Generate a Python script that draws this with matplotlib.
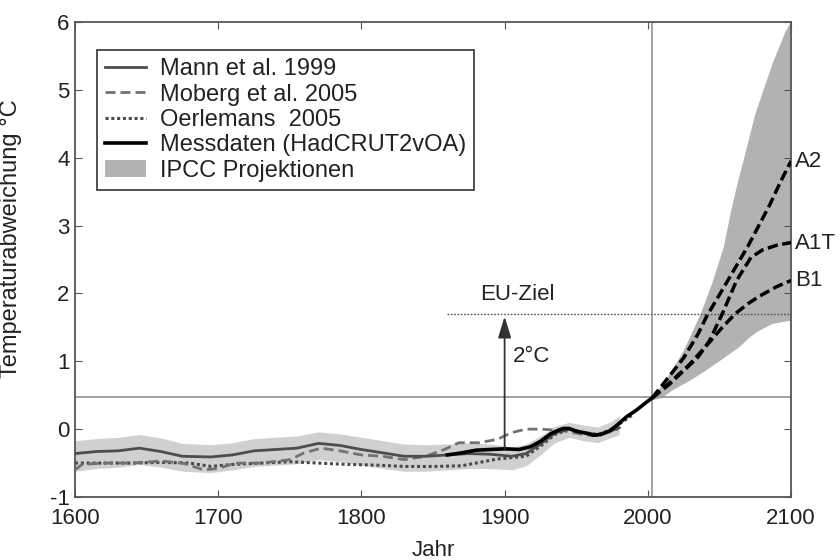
import matplotlib
matplotlib.use('Agg')
import matplotlib.pyplot as plt
from matplotlib.patches import Patch
from matplotlib.lines import Line2D

plt.rcParams['font.family'] = ['Liberation Sans', 'DejaVu Sans']
plt.rcParams['axes.unicode_minus'] = False

# Mann et al. 1999 reconstruction and its uncertainty band
mann_years = [1600, 1615, 1630, 1645, 1660, 1675, 1695, 1710, 1725, 1740, 1755, 1770, 1785,
              1800, 1815, 1830, 1845, 1860, 1875, 1890, 1905, 1915, 1925, 1935, 1945, 1955,
              1965, 1975, 1980]
mann_vals = [-0.36, -0.33, -0.32, -0.28, -0.33, -0.40, -0.41, -0.38, -0.32, -0.30, -0.28, -0.21, -0.24,
             -0.30, -0.35, -0.40, -0.40, -0.38, -0.36, -0.37, -0.40, -0.36, -0.22, -0.06, 0.00, -0.05,
             -0.08, -0.02, 0.02]
band_upper = [-0.17, -0.14, -0.12, -0.08, -0.13, -0.21, -0.23, -0.20, -0.14, -0.12, -0.10, -0.04, -0.07,
              -0.12, -0.17, -0.22, -0.23, -0.22, -0.20, -0.22, -0.26, -0.22, -0.10, 0.04, 0.10, 0.06,
              0.03, 0.12, 0.20]
band_lower = [-0.62, -0.58, -0.56, -0.52, -0.56, -0.62, -0.64, -0.60, -0.55, -0.53, -0.51, -0.45, -0.48,
              -0.53, -0.58, -0.62, -0.62, -0.60, -0.58, -0.58, -0.60, -0.54, -0.38, -0.20, -0.12, -0.17,
              -0.20, -0.12, -0.08]

# Moberg et al. 2005
moberg_years = [1600, 1605, 1620, 1640, 1660, 1675, 1690, 1700, 1712, 1730, 1750, 1760, 1772, 1785,
                1800, 1815, 1830, 1845, 1858, 1868, 1882, 1895, 1905, 1915, 1925, 1940, 1955, 1965, 1979]
moberg_vals = [-0.60, -0.52, -0.50, -0.50, -0.47, -0.50, -0.60, -0.58, -0.50, -0.50, -0.45, -0.35, -0.28, -0.32,
               -0.38, -0.40, -0.45, -0.40, -0.30, -0.20, -0.20, -0.15, -0.05, 0.00, 0.00, -0.02, -0.08, -0.10, 0.00]

# Oerlemans 2005
oerl_years = [1600, 1620, 1640, 1660, 1680, 1695, 1710, 1730, 1750, 1770, 1790, 1810, 1830, 1850,
              1870, 1885, 1895, 1905, 1915, 1925, 1935, 1945, 1955, 1965, 1975, 1990]
oerl_vals = [-0.50, -0.50, -0.50, -0.49, -0.50, -0.55, -0.52, -0.50, -0.48, -0.50, -0.52, -0.53, -0.55, -0.55,
             -0.54, -0.48, -0.44, -0.42, -0.40, -0.25, -0.08, 0.00, -0.05, -0.08, 0.00, 0.22]

# Messdaten (HadCRUT2vOA)
obs_years = [1860, 1870, 1880, 1890, 1900, 1910, 1918, 1925, 1932, 1937, 1941, 1945, 1950, 1957,
             1962, 1967, 1973, 1978, 1985, 1992, 1998, 2003]
obs_vals = [-0.38, -0.35, -0.31, -0.30, -0.29, -0.30, -0.26, -0.18, -0.07, -0.02, 0.01, 0.01, -0.03, -0.06,
            -0.09, -0.08, -0.03, 0.05, 0.18, 0.28, 0.38, 0.46]

# IPCC projection range
fan_up_years = [2002, 2015, 2025, 2037, 2045, 2053, 2058, 2063, 2068, 2075, 2087, 2096, 2100]
fan_up_vals = [0.42, 0.80, 1.15, 1.70, 2.15, 2.68, 3.20, 3.65, 4.05, 4.64, 5.38, 5.85, 6.00]
fan_lo_years = [2002, 2010, 2017, 2030, 2041, 2052, 2064, 2070, 2076, 2087, 2100]
fan_lo_vals = [0.42, 0.46, 0.57, 0.72, 0.87, 1.03, 1.21, 1.33, 1.43, 1.55, 1.60]

# scenarios
a2_years = [2003, 2015, 2025, 2035, 2041, 2050, 2060, 2070, 2077, 2085, 2093, 2100]
a2_vals = [0.46, 0.78, 1.05, 1.40, 1.66, 1.98, 2.34, 2.70, 2.98, 3.30, 3.66, 3.95]
a1t_years = [2003, 2015, 2025, 2035, 2043, 2052, 2062, 2072, 2080, 2090, 2100]
a1t_vals = [0.46, 0.66, 0.86, 1.06, 1.30, 1.70, 2.19, 2.53, 2.64, 2.71, 2.75]
b1_years = [2003, 2015, 2029, 2043, 2052, 2061, 2070, 2078, 2090, 2100]
b1_vals = [0.46, 0.68, 0.95, 1.28, 1.50, 1.70, 1.85, 1.96, 2.10, 2.19]

scen_names = ['A2', 'A1T', 'B1']
scen_label_y = [3.94, 2.74, 2.19]

ref_level = 0.48
ref_year = 2003
eu_level = 1.70

fig = plt.figure(figsize=(8.4, 5.6), dpi=100)
ax = fig.add_axes([0.0893, 0.1125, 0.8524, 0.8482])

ax.fill_between(mann_years, band_lower, band_upper, color='#d0d0d0', lw=0, zorder=1)
ax.fill(fan_up_years + fan_lo_years[::-1], fan_up_vals + fan_lo_vals[::-1],
        color='#b2b2b2', lw=0, zorder=1)

ax.axhline(ref_level, color='#9a9a9a', lw=1.3, zorder=2)
ax.axvline(ref_year, color='#9a9a9a', lw=1.3, zorder=2)
ax.plot([1860, 2100], [eu_level, eu_level], color='#555555', lw=1.0,
        dashes=(1.2, 1.2), zorder=2)

ax.plot(oerl_years, oerl_vals, color='#4a4a4a', lw=2.2, dashes=(1.0, 0.9), zorder=3)
ax.plot(moberg_years, moberg_vals, color='#727272', lw=2.0, dashes=(3.6, 1.8), zorder=3)
ax.plot(mann_years, mann_vals, color='#4d4d4d', lw=2.0, zorder=3)
ax.plot(obs_years, obs_vals, color='black', lw=2.6, zorder=4)

for yrs, vals in [(a2_years, a2_vals), (a1t_years, a1t_vals), (b1_years, b1_vals)]:
    ax.plot(yrs, vals, color='black', lw=2.5, dashes=(3.0, 1.3), zorder=4)

for name, y in zip(scen_names, scen_label_y):
    ax.text(2103, y, name, fontsize=16, color='#222222', ha='left', va='center', clip_on=False)

ax.annotate('', xy=(1900, 1.66), xytext=(1900, -0.29),
            arrowprops=dict(arrowstyle='-|>,head_length=0.65,head_width=0.2',
                            mutation_scale=20, color='#333333', lw=1.3,
                            shrinkA=0, shrinkB=0), zorder=5)
ax.text(1883, 1.90, 'EU-Ziel', fontsize=16, color='#222222', va='baseline')
ax.text(1906, 0.99, '2°C', fontsize=16, color='#222222', va='baseline')

ax.set_xlim(1600, 2100)
ax.set_ylim(-1, 6)
ax.set_xticks([1600, 1700, 1800, 1900, 2000, 2100])
ax.set_yticks(range(-1, 7))
ax.tick_params(direction='in', length=5, top=True, right=True, color='#555555',
               labelsize=16, labelcolor='#222222')
ax.tick_params(axis='x', pad=8)
ax.tick_params(axis='y', pad=4)
for sp in ax.spines.values():
    sp.set_color('#555555')
    sp.set_linewidth(1.3)

ax.set_xlabel('Jahr', fontsize=16, color='#222222', labelpad=8)
fig.text(0.0, 0.573, 'Temperaturabweichung °C', rotation=90, fontsize=17,
         color='#222222', ha='left', va='center')

handles = [
    Line2D([], [], color='#4d4d4d', lw=2.0),
    Line2D([], [], color='#727272', lw=2.0, dashes=(3.6, 1.8)),
    Line2D([], [], color='#4a4a4a', lw=2.2, dashes=(1.0, 0.9)),
    Line2D([], [], color='black', lw=2.6),
    Patch(facecolor='#b2b2b2', edgecolor='none'),
]
labels = ['Mann et al. 1999', 'Moberg et al. 2005', 'Oerlemans  2005',
          'Messdaten (HadCRUT2vOA)', 'IPCC Projektionen']
leg = ax.legend(handles, labels, loc='upper left', bbox_to_anchor=(0.031, 0.941),
                borderaxespad=0, fontsize=17, frameon=True, fancybox=False,
                framealpha=1, edgecolor='#333333', handlelength=1.7,
                handletextpad=0.6, labelspacing=0.14, borderpad=0.35)
leg.get_frame().set_linewidth(1.2)
for t in leg.get_texts():
    t.set_color('#222222')

fig.savefig('out.png', dpi=100)
